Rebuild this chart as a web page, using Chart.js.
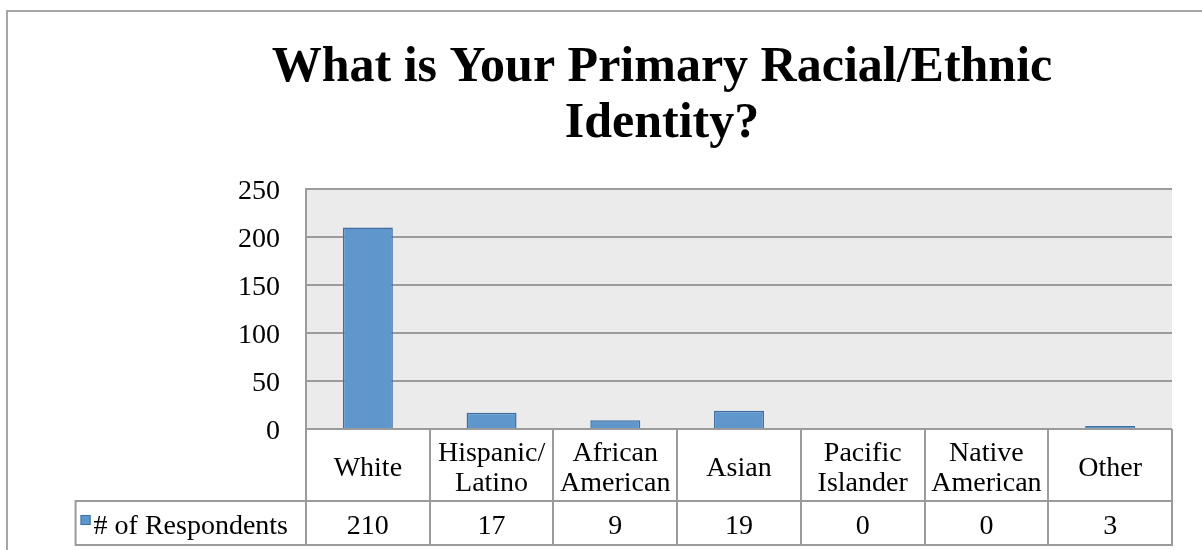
<!DOCTYPE html>
<html>
<head>
<meta charset="utf-8">
<script src="https://cdn.jsdelivr.net/npm/chart.js@4.4.1/dist/chart.umd.min.js"></script>
<style>
html,body{margin:0;padding:0;background:#fff;}
canvas{display:block;}
</style>
</head>
<body>
<canvas id="c" width="1202" height="550"></canvas>
<script>
// ---- data ----
const categories = [["White"], ["Hispanic/", "Latino"], ["African", "American"], ["Asian"], ["Pacific", "Islander"], ["Native", "American"], ["Other"]];
const respondents = [210, 17, 9, 19, 0, 0, 3];
const seriesName = "# of Respondents";
const titleLines = ["What is Your Primary Racial/Ethnic", "Identity?"];
const yMin = 0;
const yMax = 250;
const yStep = 50;

// ---- styling ----
const FONT = "'Liberation Serif', 'Times New Roman', serif";
const GRID = '#9b9b9b';
const BAR_FILL = '#5f96cc';
const BAR_EDGE = '#3e6e9f';

const framePlugin = {
  id: 'frame',
  beforeDraw(chart) {
    const { ctx, chartArea: a } = chart;
    ctx.save();
    ctx.fillStyle = '#ffffff';
    ctx.fillRect(0, 0, chart.width, chart.height);
    ctx.fillStyle = '#ebebeb';
    ctx.fillRect(a.left, a.top, a.right - a.left, a.bottom - a.top);
    ctx.strokeStyle = '#a6a6a6';
    ctx.lineWidth = 2;
    ctx.beginPath();
    ctx.moveTo(7, chart.height);
    ctx.lineTo(7, 11);
    ctx.lineTo(chart.width, 11);
    ctx.stroke();
    ctx.restore();
  }
};

const tablePlugin = {
  id: 'dataTable',
  afterDraw(chart) {
    const { ctx, chartArea: a, scales: { x } } = chart;
    const n = categories.length;
    const headTop = a.bottom;
    const rowTop = a.bottom + 72;
    const rowBot = a.bottom + 116;
    ctx.save();
    ctx.font = `28px ${FONT}`;
    const labelW = ctx.measureText(seriesName).width;
    const textRight = a.left - 18;
    const textLeft = textRight - labelW;
    const tableLeft = textLeft - 18;

    ctx.strokeStyle = GRID;
    ctx.lineWidth = 2;
    ctx.beginPath();
    // horizontal lines
    ctx.moveTo(tableLeft, rowTop); ctx.lineTo(a.right + 1, rowTop);
    ctx.moveTo(tableLeft, rowBot); ctx.lineTo(a.right + 1, rowBot);
    // left edge of legend cell
    ctx.moveTo(tableLeft, rowTop - 1); ctx.lineTo(tableLeft, rowBot + 1);
    // column separators
    const bounds = [a.left];
    for (let i = 1; i < n; i++) {
      bounds.push((x.getPixelForValue(i - 1) + x.getPixelForValue(i)) / 2);
    }
    bounds.push(a.right);
    bounds.forEach(b => {
      const bx = Math.round(b);
      ctx.moveTo(bx, headTop); ctx.lineTo(bx, rowBot + 1);
    });
    ctx.stroke();

    // values
    ctx.fillStyle = '#000';
    ctx.textAlign = 'center';
    ctx.textBaseline = 'middle';
    respondents.forEach((v, i) => {
      ctx.fillText(String(v), x.getPixelForValue(i), rowTop + 26);
    });

    // legend key + series name
    ctx.textAlign = 'left';
    ctx.fillText(seriesName, textLeft, rowTop + 26);
    ctx.fillStyle = BAR_FILL;
    ctx.fillRect(textLeft - 13, rowTop + 14, 10, 10);
    ctx.strokeStyle = BAR_EDGE;
    ctx.lineWidth = 1;
    ctx.strokeRect(textLeft - 12.5, rowTop + 14.5, 9, 9);
    ctx.restore();
  }
};

new Chart(document.getElementById('c'), {
  type: 'bar',
  data: {
    labels: categories,
    datasets: [{
      label: seriesName,
      data: respondents,
      backgroundColor: BAR_FILL,
      borderColor: BAR_EDGE,
      borderWidth: 1.5,
      barPercentage: 0.404,
      categoryPercentage: 1
    }]
  },
  options: {
    responsive: false,
    devicePixelRatio: 1,
    animation: false,
    layout: { padding: { left: 152, right: 30, top: 0, bottom: 0 } },
    plugins: {
      legend: { display: false },
      tooltip: { enabled: false },
      title: {
        display: true,
        text: titleLines,
        color: '#000',
        font: { family: FONT, size: 50, weight: 'bold', lineHeight: 1.12 },
        padding: { top: 40, bottom: 37 }
      }
    },
    scales: {
      x: {
        grid: { display: false, drawTicks: false },
        border: { display: false },
        ticks: {
          color: '#000',
          font: { family: FONT, size: 28, lineHeight: 30 / 28 },
          padding: 25,
          crossAlign: 'center',
          maxRotation: 0,
          minRotation: 0,
          autoSkip: false
        },
        afterFit(scale) { scale.height = 121; }
      },
      y: {
        min: yMin,
        max: yMax,
        ticks: {
          stepSize: yStep,
          color: '#000',
          font: { family: FONT, size: 28 },
          padding: 26,
          labelOffset: 3
        },
        grid: { color: GRID, lineWidth: 2, drawTicks: false },
        border: { color: GRID, width: 2 },
        afterFit(scale) { scale.width = 154; }
      }
    }
  },
  plugins: [framePlugin, tablePlugin]
});
</script>
</body>
</html>
